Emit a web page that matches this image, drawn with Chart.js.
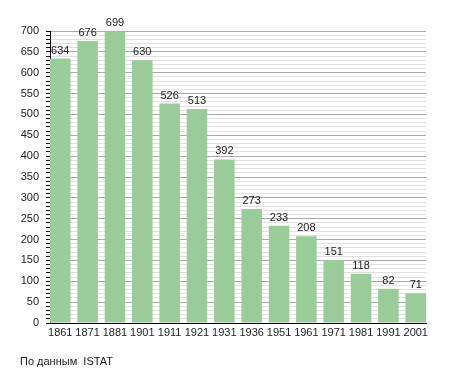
<!DOCTYPE html>
<html>
<head>
<meta charset="utf-8">
<script src="https://cdn.jsdelivr.net/npm/chart.js@4"></script>
<style>
    html, body { margin: 0; padding: 0; background: #fff; }
    #wrap { position: relative; width: 455px; height: 373px; }
    #note {
        position: absolute; left: 20px; top: 355px;
        font: 11px "Liberation Sans", Arial, sans-serif; color: #222;
        white-space: pre;
    }
</style>
</head>
<body>
<div id="wrap">
    <canvas id="popChart" width="455" height="373"></canvas>
    <div id="note">По данным  ISTAT</div>
</div>
<script>
// 데이터
const years = ['1861', '1871', '1881', '1901', '1911', '1921', '1931', '1936', '1951', '1961', '1971', '1981', '1991', '2001'];
const population = [634, 676, 699, 630, 526, 513, 392, 273, 233, 208, 151, 118, 82, 71];
const yMax = 700;
const yStep = 10;
const labelStep = 50;

const FONT = '"Liberation Sans", Arial, sans-serif';
const BAR_PCT = 0.75;

// 막대 위 값 표시
const valueLabels = {
    id: 'valueLabels',
    afterDatasetsDraw(chart) {
        const ctx = chart.ctx;
        const meta = chart.getDatasetMeta(0);
        ctx.save();
        ctx.font = '11px ' + FONT;
        ctx.fillStyle = '#222';
        ctx.textAlign = 'center';
        ctx.textBaseline = 'alphabetic';
        meta.data.forEach((bar, i) => {
            ctx.fillText(String(population[i]), bar.x, bar.y - 5);
        });
        ctx.restore();
    }
};

new Chart(document.getElementById('popChart'), {
    type: 'bar',
    data: {
        labels: years,
        datasets: [{
            data: population,
            backgroundColor: '#99cc99',
            borderWidth: 0,
            barPercentage: BAR_PCT,
            categoryPercentage: 1
        }]
    },
    options: {
        responsive: false,
        animation: false,
        layout: { padding: { top: 31, right: 29, left: 0, bottom: 0 } },
        plugins: {
            legend: { display: false },
            tooltip: { enabled: false }
        },
        scales: {
            x: {
                afterFit: scale => { scale.height = 50; },
                // 첫 막대는 축에 붙고 마지막 막대는 오른쪽 끝에 맞춤
                afterBuildTicks: scale => {
                    const n = years.length;
                    scale._startValue = -BAR_PCT / 2;
                    scale._valueRange = n - 1 + BAR_PCT;
                },
                grid: { display: false, drawTicks: false },
                border: { color: '#000', width: 1 },
                ticks: {
                    color: '#222',
                    padding: 3,
                    font: { family: FONT, size: 11 },
                    maxRotation: 0,
                    autoSkip: false
                }
            },
            y: {
                min: 0,
                max: yMax,
                afterFit: scale => { scale.width = 50; },
                border: { color: '#000', width: 1 },
                grid: {
                    color: c => (c.tick && c.tick.value % labelStep === 0) ? '#aaaaaa' : '#e0e0e0',
                    tickColor: '#000',
                    tickLength: 4,
                    lineWidth: 1
                },
                ticks: {
                    stepSize: yStep,
                    autoSkip: false,
                    color: '#222',
                    padding: 7,
                    font: { family: FONT, size: 11 },
                    callback: v => (v % labelStep === 0 ? v : '')
                }
            }
        }
    },
    plugins: [valueLabels]
});
</script>
</body>
</html>
